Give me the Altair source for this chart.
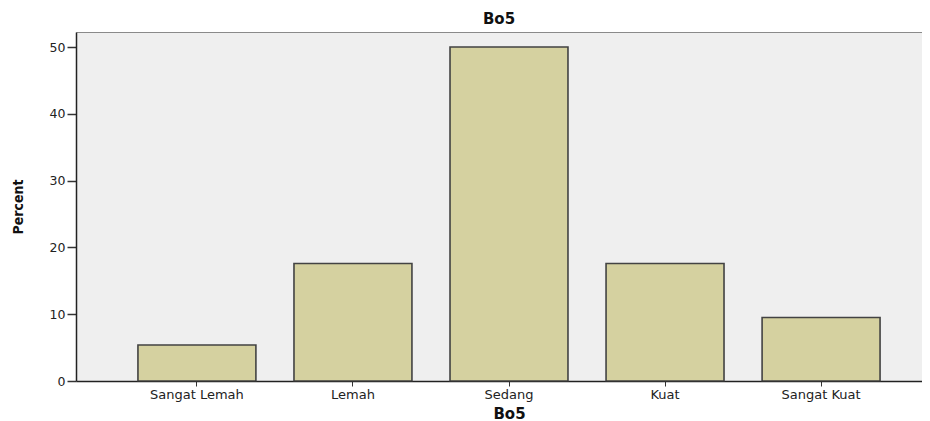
import altair as alt
import pandas as pd

categories = ["Sangat Lemah", "Lemah", "Sedang", "Kuat", "Sangat Kuat"]
percent = [5.4, 17.6, 50.0, 17.6, 9.5]
y_ticks = [0, 10, 20, 30, 40, 50]

df = pd.DataFrame({"Bo5": categories, "Percent": percent})

x_scale = alt.Scale(paddingInner=0.244, paddingOuter=0.397, range=[0, 866])

bars = (
    alt.Chart(df)
    .mark_bar(fill="#d4d09c", stroke="#3a3a3a", strokeWidth=1.6, opacity=0.95)
    .encode(
        x=alt.X(
            "Bo5:N",
            sort=categories,
            scale=x_scale,
            axis=alt.Axis(
                title="Bo5",
                labelAngle=0,
                labelFont="DejaVu Sans",
                labelFontSize=13,
                labelColor="#222",
                labelPadding=2,
                tickSize=5,
                tickColor="#333",
                domainColor="#222",
                domainWidth=1.5,
                titleFont="DejaVu Sans",
                titleFontSize=15,
                titleFontWeight="bold",
                titleColor="#111",
                titlePadding=5,
            ),
        ),
        y=alt.Y(
            "Percent:Q",
            scale=alt.Scale(domain=[0, 52.25], nice=False),
            axis=alt.Axis(
                values=y_ticks,
                title="Percent",
                grid=False,
                labelFont="DejaVu Sans",
                labelFontSize=12.5,
                labelColor="#222",
                labelPadding=2,
                tickSize=9,
                tickWidth=1.5,
                tickColor="#333",
                domainColor="#222",
                domainWidth=1.5,
                titleFont="DejaVu Sans Condensed",
                titleFontSize=14,
                titleFontWeight="bold",
                titleColor="#111",
                titlePadding=24,
            ),
        ),
    )
)

top_frame = (
    alt.Chart(df)
    .mark_bar(opacity=0)
    .encode(
        x=alt.X(
            "Bo5:N",
            sort=categories,
            scale=x_scale,
            axis=alt.Axis(
                orient="top",
                title=None,
                labels=False,
                ticks=False,
                domainColor="#8a8a8a",
                domainWidth=1.2,
            ),
        ),
    )
)

chart = (
    alt.layer(bars, top_frame)
    .resolve_axis(x="independent")
    .properties(
        width=846,
        height=349,
        background="white",
        title=alt.TitleParams(
            "Bo5",
            font="DejaVu Sans",
            fontSize=15,
            fontWeight="bold",
            color="#111",
            offset=5,
        ),
        autosize=alt.AutoSizeParams(type="none"),
        padding={"left": 68, "top": 24, "right": 0, "bottom": 40},
    )
    .configure_view(fill="#efefef", stroke=None)
)

chart.save("out.html", embed_options={"renderer": "svg", "actions": False})
